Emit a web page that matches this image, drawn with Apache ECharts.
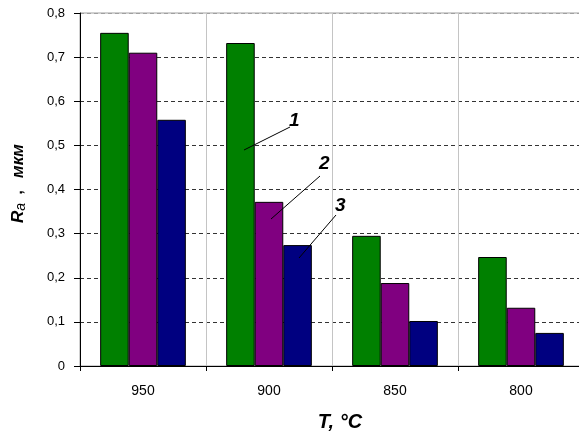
<!DOCTYPE html>
<html><head><meta charset="utf-8">
<script src="https://cdn.jsdelivr.net/npm/echarts@6/dist/echarts.min.js"></script>
<style>html,body{margin:0;padding:0;background:#fff}#c{width:579px;height:436px}</style>
</head><body><div id="c"></div>
<script>
var categories = ['950', '900', '850', '800'];
var series1 = [0.755, 0.732, 0.295, 0.247];
var series2 = [0.710, 0.372, 0.188, 0.132];
var series3 = [0.558, 0.274, 0.102, 0.075];
var yTicks = [0, 0.1, 0.2, 0.3, 0.4, 0.5, 0.6, 0.7, 0.8];
var seriesNames = ['1', '2', '3'];
var colors = ['#008000', '#800080', '#000080'];

var chart = echarts.init(document.getElementById('c'), null, {renderer: 'canvas'});
var F = '"Liberation Sans", Arial, sans-serif';
var gridColors = ['#000'];
for (var i = 1; i < yTicks.length - 1; i++) gridColors.push('#333');
gridColors.push('#a0a0a0');

function mk(name, data, color) {
  return {
    name: name, type: 'bar', data: data, barGap: '0%', barCategoryGap: '32%',
    itemStyle: {color: color, borderColor: '#000', borderWidth: 1},
    animation: false
  };
}

chart.setOption({
  animation: false,
  grid: {left: 80, top: 13, right: -5, bottom: 70, containLabel: false, outerBoundsMode: 'none',
    show: true, borderColor: '#a0a0a0', borderWidth: 1, backgroundColor: 'transparent'},
  xAxis: {
    type: 'category', data: categories,
    axisLine: {lineStyle: {color: '#000', width: 1}},
    axisTick: {show: true, length: 5, lineStyle: {color: '#000'}},
    axisLabel: {color: '#000', fontFamily: F, fontSize: 14, margin: 18},
    splitLine: {show: true, lineStyle: {color: '#c4c4c4', width: 1}},
    name: 'T, °C', nameLocation: 'middle', nameGap: 46,
    nameTextStyle: {fontFamily: F, fontSize: 20, fontWeight: 'bold', fontStyle: 'italic', color: '#000', padding: [0, 0, 0, 16]}
  },
  yAxis: {
    type: 'value', min: 0, max: 0.8, interval: 0.1,
    axisLine: {show: true, lineStyle: {color: '#000', width: 1}},
    axisTick: {show: true, length: 6, lineStyle: {color: '#000'}},
    axisLabel: {color: '#000', fontFamily: F, fontSize: 13, margin: 15,
      formatter: function (v) { return String(Math.round(v * 10) / 10).replace('.', ','); }},
    splitLine: {show: true, lineStyle: {color: gridColors, type: [4, 3], width: 1}}
  },
  series: [mk(seriesNames[0], series1, colors[0]), mk(seriesNames[1], series2, colors[1]), mk(seriesNames[2], series3, colors[2])],
  graphic: [
    {type: 'text', x: 28, y: 223, rotation: Math.PI / 2, z: 100,
      style: {
        text: '{r|R}{s|a}{c|  ,   }{t|мкм}', textAlign: 'left', textVerticalAlign: 'bottom',
        rich: {
          r: {font: 'italic bold 17px ' + F, fill: '#000', lineHeight: 18, verticalAlign: 'top'},
          s: {font: 'italic 14px ' + F, fill: '#000', lineHeight: 14, verticalAlign: 'bottom'},
          c: {font: 'bold 15px ' + F, fill: '#000', lineHeight: 18, verticalAlign: 'top'},
          t: {font: 'italic bold 17px ' + F, fill: '#000', lineHeight: 18, verticalAlign: 'top'}
        }
      }},
    {type: 'line', shape: {x1: 244, y1: 150, x2: 290, y2: 127}, style: {stroke: '#000', lineWidth: 1}, z: 100},
    {type: 'text', x: 289, y: 111, style: {text: seriesNames[0], font: 'italic bold 19px ' + F, fill: '#000'}, z: 100},
    {type: 'line', shape: {x1: 271, y1: 219, x2: 320, y2: 176}, style: {stroke: '#000', lineWidth: 1}, z: 100},
    {type: 'text', x: 319, y: 154, style: {text: seriesNames[1], font: 'italic bold 19px ' + F, fill: '#000'}, z: 100},
    {type: 'line', shape: {x1: 299, y1: 258, x2: 336, y2: 215}, style: {stroke: '#000', lineWidth: 1}, z: 100},
    {type: 'text', x: 335, y: 196, style: {text: seriesNames[2], font: 'italic bold 19px ' + F, fill: '#000'}, z: 100}
  ]
});
</script></body></html>
